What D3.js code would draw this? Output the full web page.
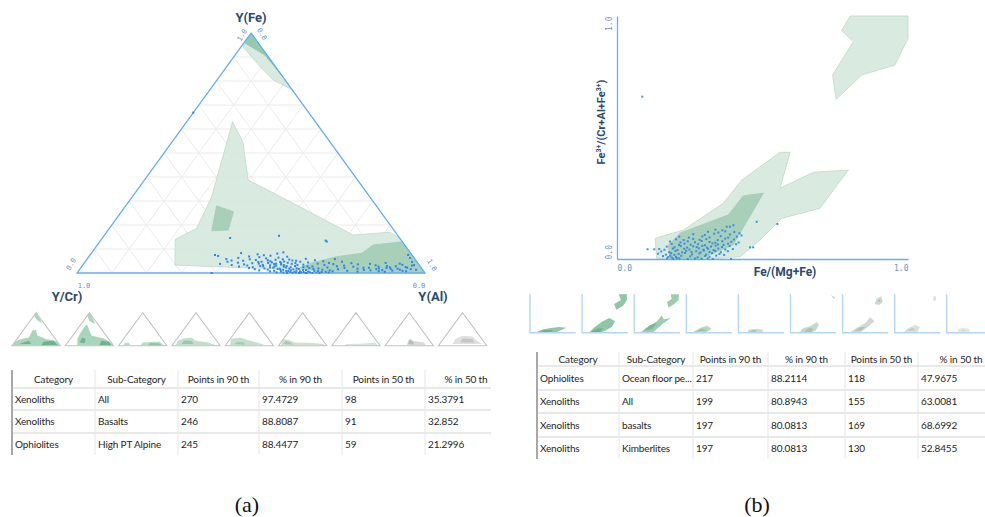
<!DOCTYPE html>
<html><head><meta charset="utf-8">
<script src="https://cdn.jsdelivr.net/npm/d3@7"></script>
<style>
body{margin:0;background:#fff;}
svg{display:block;}
</style></head>
<body>
<svg id="c" width="985" height="517"></svg>
<script>
// ---------- DATA ----------
const ternaryLabels = ["Y(Fe)", "Y/Cr)", "Y(Al)"];
const ternaryGridTicks = [0.1,0.2,0.3,0.4,0.5,0.6,0.7,0.8,0.9];
// polygons as [Al, Fe] (Cr = 1 - Al - Fe)
const ternTopLight = [[0,1],[0.005,0.943],[0.096,0.86],[0.162,0.804],[0.236,0.764]];
const ternTopDark = [[0,1],[0.004,0.958],[0.086,0.908],[0.175,0.825]];
const ternMainLight = [[0.265,0.033],[0.212,0.14],[0.251,0.186],[0.228,0.318],[0.132,0.63],[0.203,0.547],[0.298,0.3875],[0.477,0.29],[0.715,0.158],[0.814,0.17],[0.855,0.145],[1,0],[0.664,0.0125],[0.487,0.021]];
const ternBottomDark = [[0.63,0.021],[0.65,0.04],[0.712,0.068],[0.777,0.082],[0.793,0.117],[0.87,0.13],[1,0],[0.718,0]];
const ternSmallDark = [[0.261,0.28],[0.322,0.255],[0.345,0.179],[0.299,0.176]];
// spinel points [Al, Fe]
const ternPoints = [
[0.43,0.083],[0.48,0.078],[0.52,0.072],[0.55,0.086],[0.57,0.068],[0.50,0.074],[0.359,0.075],[0.37,0.071],[0.535,0.081],[0.46,0.069],
[0.40,0.058],[0.432,0.063],[0.468,0.057],[0.513,0.061],[0.547,0.064],[0.582,0.056],[0.628,0.059],[0.491,0.066],
[0.418,0.052],[0.487,0.054],[0.531,0.049],[0.563,0.057],[0.604,0.051],[0.657,0.053],[0.712,0.058],[0.543,0.055],
[0.409,0.047],[0.452,0.051],[0.498,0.046],[0.522,0.053],[0.538,0.044],[0.571,0.048],[0.593,0.052],[0.618,0.047],[0.683,0.049],
[0.441,0.043],[0.483,0.041],[0.507,0.047],[0.528,0.042],[0.552,0.039],[0.561,0.046],[0.584,0.043],[0.607,0.041],[0.642,0.044],[0.703,0.042],[0.738,0.047],
[0.392,0.038],[0.462,0.036],[0.503,0.039],[0.517,0.034],[0.548,0.037],[0.566,0.041],[0.578,0.033],[0.598,0.038],[0.633,0.035],[0.672,0.039],[0.718,0.037],[0.768,0.041],[0.823,0.038],[0.866,0.042],[0.908,0.039],
[0.428,0.033],[0.474,0.031],[0.512,0.029],[0.539,0.032],[0.554,0.027],[0.569,0.035],[0.588,0.029],[0.617,0.033],[0.648,0.028],[0.694,0.034],[0.752,0.031],[0.789,0.036],[0.842,0.032],[0.876,0.029],[0.918,0.034],[0.947,0.031],
[0.452,0.027],[0.493,0.024],[0.521,0.028],[0.543,0.023],[0.557,0.031],[0.581,0.026],[0.602,0.024],[0.612,0.029],[0.638,0.025],[0.663,0.027],[0.708,0.023],[0.733,0.028],[0.781,0.026],[0.812,0.022],[0.853,0.027],[0.887,0.024],[0.902,0.028],[0.932,0.025],
[0.484,0.021],[0.529,0.019],[0.553,0.022],[0.574,0.018],[0.589,0.023],[0.621,0.02],[0.629,0.017],[0.657,0.021],[0.684,0.019],[0.758,0.021],[0.797,0.018],[0.828,0.022],[0.858,0.019],[0.879,0.021],[0.912,0.018],[0.938,0.022],
[0.503,0.016],[0.541,0.014],[0.568,0.017],[0.586,0.013],[0.601,0.018],[0.614,0.015],[0.643,0.013],[0.671,0.017],[0.698,0.014],[0.742,0.016],[0.818,0.013],[0.852,0.016],[0.871,0.012],[0.893,0.017],[0.921,0.014],[0.951,0.016],[0.968,0.013],
[0.518,0.011],[0.562,0.009],[0.579,0.012],[0.597,0.008],[0.609,0.011],[0.626,0.009],[0.652,0.012],[0.689,0.008],[0.721,0.011],[0.772,0.009],[0.838,0.011],[0.863,0.008],[0.901,0.01],[0.931,0.009],
[0.551,0.007],[0.583,0.006],[0.603,0.008],[0.622,0.005],[0.637,0.007],[0.649,0.004],[0.661,0.006],[0.678,0.008],[0.712,0.005],[0.731,0.007],[0.803,0.006],[0.882,0.005],[0.942,0.007],
[0.572,0.003],[0.592,0.002],[0.611,0.004],[0.628,0.002],[0.642,0.003],[0.656,0.001],[0.668,0.003],[0.687,0.002],[0.701,0.004],[0.722,0.002],
[0.387,0],[0.604,0],[0.619,0.001],[0.638,0],[0.659,0],[0.676,0.001],[0.697,0],
[0.914,0.075],[0.926,0.0625],[0.94,0.046],[0.952,0.033],
[0.367,0.146],[0.503,0.155],[0.647,0.135],[0.652,0.131],[0,0.668]
];

const binXLabel = "Fe/(Mg+Fe)";
const binTicks = [0, 1];
const binUpperLight = [[0.801,1],[1,1],[1,0.908],[0.955,0.798],[0.841,0.757],[0.753,0.657],[0.741,0.757],[0.812,0.894],[0.772,0.94]];
const binLowerLight = [[0.429,0.325],[0.560,0.439],[0.595,0.439],[0.560,0.291],[0.675,0.357],[0.795,0.366],[0.698,0.209],[0.566,0.167],[0.491,0.078],[0.423,0.009],[0.308,0],[0.136,0.003],[0.131,0.085],[0.228,0.119],[0.365,0.229]];
const binDark = [[0.503,0.271],[0.434,0.26],[0.383,0.182],[0.218,0.107],[0.177,0.058],[0.182,0.003],[0.285,0],[0.399,0.058]];
const binPoints = [
[0.172,0.002],[0.193,0.001],[0.214,0.003],[0.243,0],[0.268,0.002],[0.291,0.001],[0.312,0.003],[0.329,0],[0.392,0],[0.205,0.004],
[0.158,0.012],[0.176,0.008],[0.183,0.014],[0.203,0.009],[0.221,0.013],[0.252,0.011],[0.277,0.007],[0.303,0.012],[0.318,0.009],[0.341,0.014],[0.188,0.006],
[0.141,0.022],[0.168,0.018],[0.186,0.024],[0.197,0.017],[0.212,0.021],[0.234,0.025],[0.258,0.019],[0.283,0.023],[0.306,0.018],[0.327,0.024],[0.352,0.021],[0.368,0.017],
[0.152,0.031],[0.179,0.028],[0.201,0.033],[0.224,0.027],[0.238,0.034],[0.256,0.029],[0.272,0.032],[0.287,0.027],[0.298,0.035],[0.318,0.029],[0.338,0.033],[0.357,0.028],[0.381,0.032],
[0.105,0.04],[0.128,0.04],[0.145,0.041],[0.163,0.038],[0.192,0.043],[0.208,0.037],[0.231,0.042],[0.249,0.039],[0.281,0.044],[0.297,0.038],[0.313,0.042],[0.332,0.037],[0.348,0.043],[0.372,0.039],[0.398,0.041],
[0.171,0.051],[0.198,0.048],[0.219,0.053],[0.241,0.047],[0.262,0.052],[0.274,0.049],[0.293,0.054],[0.309,0.047],[0.323,0.051],[0.339,0.055],[0.361,0.049],[0.387,0.053],[0.457,0.048],[0.468,0.048],
[0.188,0.062],[0.213,0.058],[0.232,0.063],[0.253,0.059],[0.279,0.061],[0.302,0.057],[0.328,0.064],[0.347,0.06],[0.366,0.058],[0.382,0.063],[0.409,0.061],
[0.182,0.072],[0.218,0.068],[0.243,0.073],[0.268,0.069],[0.291,0.074],[0.318,0.07],[0.338,0.067],[0.362,0.073],[0.393,0.071],[0.418,0.068],
[0.203,0.081],[0.229,0.078],[0.262,0.083],[0.284,0.079],[0.307,0.082],[0.346,0.078],[0.372,0.084],[0.402,0.08],
[0.214,0.092],[0.247,0.088],[0.293,0.093],[0.318,0.089],[0.356,0.094],[0.382,0.088],[0.412,0.092],[0.428,0.097],
[0.262,0.102],[0.302,0.099],[0.334,0.104],[0.388,0.101],[0.421,0.106],
[0.313,0.112],[0.348,0.109],[0.372,0.114],[0.403,0.111],
[0.338,0.121],[0.362,0.118],[0.377,0.133],[0.388,0.133],[0.40,0.139],
[0.48,0.153],[0.551,0.144],[0.087,0.668]
];

const thumbAColors = [["#a9d5bb","#6fb38d"],["#a9d5bb","#6fb38d"],["#bcdcc9","#8cc4a4"],["#c2dfcd","#98c8ac"],["#c6e0d0","#a0cbb2"],["#cfdfd4","#adc6b6"],["#d8e3dc","#bccdc2"],["#d6dad7","#b6bdb8"],["#e0e0e0","#c6c6c6"]];
const thumbAShapes = [
 [[[0.03,0],[0.05,0.12],[0.2,0.2],[0.35,0.25],[0.42,0.45],[0.5,0.48],[0.52,0.32],[0.7,0.2],[0.9,0.15],[1,0]],[[0.45,0.92],[0.5,1],[0.55,0.9],[0.62,0.68],[0.52,0.78]]],
 [[[0.25,0],[0.25,0.2],[0.32,0.4],[0.4,0.58],[0.45,0.64],[0.5,0.45],[0.55,0.3],[0.8,0.22],[0.92,0.12],[1,0]],[[0.45,0.92],[0.5,1],[0.56,0.85],[0.62,0.65],[0.5,0.75]]],
 [[[0.1,0],[0.12,0.08],[0.2,0.1],[0.25,0.03]],[[0.45,0],[0.5,0.1],[0.7,0.12],[0.85,0.12],[0.95,0]]],
 [[[0.08,0],[0.12,0.15],[0.25,0.22],[0.4,0.25],[0.5,0.15],[0.75,0.1],[0.95,0]]],
 [[[0.1,0],[0.12,0.2],[0.3,0.25],[0.45,0.18],[0.7,0.08],[0.85,0]]],
 [[[0.05,0],[0.08,0.2],[0.2,0.18],[0.35,0.1],[0.7,0.08],[0.92,0.05],[0.97,0]]],
 [[[0.25,0],[0.3,0.05],[0.6,0.06],[0.9,0.1],[0.95,0]],[[0.47,0.93],[0.5,1],[0.53,0.93]]],
 [[[0.45,0],[0.48,0.15],[0.52,0.22],[0.58,0.15],[0.8,0.1],[0.85,0]]],
 [[[0.3,0.05],[0.35,0.2],[0.5,0.3],[0.7,0.28],[0.8,0.15],[0.9,0.05]]]
];
const thumbADark = [
 [[[0.6,0],[0.65,0.12],[0.85,0.15],[0.97,0]],[[0.15,0.05],[0.35,0.15],[0.4,0.05]]],
 [[[0.7,0],[0.75,0.15],[0.9,0.12],[0.97,0]],[[0.3,0.1],[0.35,0.25],[0.42,0.2],[0.4,0.08]]],
 [[[0.6,0],[0.65,0.08],[0.85,0.07],[0.9,0]]],
 [[[0.2,0.05],[0.25,0.15],[0.4,0.15],[0.45,0.05]]],
 [[[0.2,0.05],[0.25,0.12],[0.4,0.1],[0.4,0.03]]],
 [[[0.1,0.05],[0.15,0.15],[0.25,0.1],[0.3,0.03]]],
 [],
 [[[0.48,0.05],[0.5,0.18],[0.58,0.12],[0.6,0.04]]],
 [[[0.45,0.1],[0.5,0.22],[0.7,0.2],[0.75,0.1]]]
];
const thumbBColors = [["#8fc7a6","#6fb38d"],["#8fc7a6","#6fb38d"],["#9ccdb0","#78b894"],["#b4d8c2","#8cc4a4"],["#c2dfcd","#9fcab1"],["#c6d8cc","#a9c2b2"],["#cfd9d2","#b2c1b7"],["#d9dedb","#bdc5c0"],["#e6e6e6","#cfcfcf"]];
const thumbBShapes = [
 [[[0.15,0.02],[0.25,0.08],[0.45,0.12],[0.65,0.15],[0.8,0.13],[0.65,0.05],[0.55,0]]],
 [[[0.15,0],[0.25,0.12],[0.45,0.3],[0.6,0.38],[0.72,0.3],[0.65,0.15],[0.5,0.05],[0.4,0]],[[0.75,0.6],[0.7,0.75],[0.85,0.85],[0.8,1],[0.98,1],[0.98,0.85],[0.9,0.7]]],
 [[[0.15,0.02],[0.3,0.15],[0.5,0.3],[0.6,0.45],[0.65,0.35],[0.8,0.38],[0.65,0.25],[0.5,0.1],[0.4,0]],[[0.75,0.65],[0.72,0.8],[0.82,0.88],[0.8,1],[0.98,1],[0.97,0.85],[0.88,0.75]]],
 [[[0.15,0.02],[0.3,0.12],[0.45,0.18],[0.55,0.1],[0.45,0.02]]],
 [[[0.2,0],[0.22,0.08],[0.4,0.1],[0.55,0.08],[0.5,0]]],
 [[[0.2,0],[0.25,0.1],[0.45,0.18],[0.58,0.28],[0.62,0.2],[0.55,0.05],[0.45,0]],[[0.88,0.98],[0.95,0.88],[0.98,0.92]]],
 [[[0.18,0.02],[0.3,0.12],[0.5,0.25],[0.6,0.4],[0.7,0.3],[0.55,0.15],[0.4,0.02]],[[0.7,0.75],[0.75,0.9],[0.85,0.95],[0.88,0.8],[0.8,0.72]]],
 [[[0.2,0.02],[0.3,0.12],[0.45,0.2],[0.55,0.15],[0.5,0.02]],[[0.84,0.84],[0.85,0.95],[0.9,0.95],[0.9,0.84]]],
 [[[0.25,0.01],[0.25,0.1],[0.35,0.12],[0.5,0.1],[0.5,0.01]]]
];
const thumbBDark = [
 [[[0.2,0],[0.3,0.07],[0.5,0.08],[0.45,0]]],
 [[[0.2,0.02],[0.3,0.1],[0.45,0.12],[0.4,0.02]]],
 [[[0.2,0.05],[0.35,0.2],[0.5,0.25],[0.4,0.1]]],
 [[[0.22,0.03],[0.35,0.1],[0.45,0.06]]],
 [[[0.25,0.02],[0.3,0.07],[0.4,0.05],[0.38,0]]],
 [[[0.3,0.03],[0.4,0.12],[0.5,0.1],[0.45,0.02]]],
 [[[0.25,0.05],[0.4,0.15],[0.5,0.15],[0.4,0.05]],[[0.76,0.8],[0.8,0.88],[0.84,0.82]]],
 [[[0.28,0.04],[0.38,0.12],[0.45,0.08]]],
 [[[0.32,0.03],[0.35,0.08],[0.43,0.07]]]
];

const tableHeaders = ["Category","Sub-Category","Points in 90 th","% in 90 th","Points in 50 th","% in 50 th"];
const tableACategories = ["Xenoliths","Xenoliths","Ophiolites"];
const tableASub = ["All","Basalts","High PT Alpine"];
const tableAP90 = ["270","246","245"];
const tableAPct90 = ["97.4729","88.8087","88.4477"];
const tableAP50 = ["98","91","59"];
const tableAPct50 = ["35.3791","32.852","21.2996"];
const tableBCategories = ["Ophiolites","Xenoliths","Xenoliths","Xenoliths"];
const tableBSub = ["Ocean floor pe...","All","basalts","Kimberlites"];
const tableBP90 = ["217","199","197","197"];
const tableBPct90 = ["88.2114","80.8943","80.0813","80.0813"];
const tableBP50 = ["118","155","169","130"];
const tableBPct50 = ["47.9675","63.0081","68.6992","52.8455"];
const captions = ["(a)","(b)"];

// ---------- DRAW ----------
const svg = d3.select("#c");
const BLUE = "#64aef2", PT = "#2a86ee", LIGHT = "#d5e9dd", LIGHTS = "#bcd9c8", DARK = "#a2cdb5", LBL = "#2c4a6e", TICK = "#6d92ba";
const labelFont = "'Liberation Sans Narrow','Roboto',sans-serif";

const tx = d3.scaleLinear().domain([0,1]).range([77,425]);
const ty = d3.scaleLinear().domain([0,1]).range([273,33]);
const tp = d => [tx(d[0] + d[1]/2), ty(d[1])];
const line = d3.line();
const cl = d3.line().curve(d3.curveLinearClosed);
const gT = svg.append("g");

ternaryGridTicks.forEach(t => {
  [[tp([0,t]), tp([1-t,t])], [tp([t,0]), tp([t,1-t])], [tp([1-t,0]), tp([0,1-t])]].forEach(seg =>
    gT.append("path").attr("d", line(seg)).attr("stroke","#ebebeb").attr("stroke-width",1).attr("fill","none"));
});
[[ternMainLight,LIGHT],[ternTopLight,LIGHT],[ternTopDark,"#8fc5a7"],[ternBottomDark,DARK],[ternSmallDark,DARK]].forEach(([p,c]) => {
  gT.append("path").attr("d", cl(p.map(tp)))
    .attr("fill", c).attr("fill-opacity", 0.9).attr("stroke", c === LIGHT ? LIGHTS : c).attr("stroke-width", 0.8);
});
gT.append("path").attr("d", cl([tp([0,0]),tp([1,0]),tp([0,1])]))
  .attr("fill","none").attr("stroke",BLUE).attr("stroke-width",1.3);
gT.selectAll("rect.tp").data(ternPoints).join("rect").attr("class","tp")
  .attr("x", d => tp(d)[0]-1).attr("y", d => tp(d)[1]-1).attr("width",2).attr("height",2).attr("fill",PT);
const vtx = [[0,1],[0,0],[1,0]];
const gL = gT.append("g");
gL.append("text").attr("x", tp(vtx[0])[0]).attr("y", 22).attr("text-anchor","middle").text(ternaryLabels[0]);
gL.append("text").attr("x", tp(vtx[1])[0]-10).attr("y", 301).attr("text-anchor","middle").text(ternaryLabels[1]);
gL.append("text").attr("x", tp(vtx[2])[0]+8).attr("y", 301).attr("text-anchor","middle").text(ternaryLabels[2]);
gL.selectAll("text").attr("font-family",labelFont).attr("font-weight","bold").attr("font-size",13).attr("fill",LBL);
const tfmt = d3.format(".1f");
const tTicks = [
  {v:1, x:tp(vtx[0])[0]-9, y:tp(vtx[0])[1]+2, r:-60},
  {v:0, x:tp(vtx[0])[0]+11, y:tp(vtx[0])[1]+1, r:60},
  {v:0, x:tp(vtx[1])[0]-6, y:tp(vtx[1])[1]-9, r:-60},
  {v:1, x:tp(vtx[1])[0]+7, y:tp(vtx[1])[1]+13, r:0},
  {v:0, x:tp(vtx[2])[0]-6, y:tp(vtx[2])[1]+13, r:0},
  {v:1, x:tp(vtx[2])[0]+7, y:tp(vtx[2])[1]-8, r:60}
];
tTicks.forEach(t => {
  gT.append("text").attr("transform",`translate(${t.x},${t.y}) rotate(${t.r})`).attr("text-anchor","middle")
    .attr("dy","0.35em").attr("font-family","'DejaVu Sans Mono',monospace").attr("font-size",7).attr("fill",TICK).text(tfmt(t.v));
});

// Binary plot
const bx = d3.scaleLinear().domain([0,1]).range([617,908]);
const by = d3.scaleLinear().domain([0,1]).range([259,16]);
const bp = d => [bx(d[0]), by(d[1])];
const gB = svg.append("g");
[[binUpperLight,LIGHT],[binLowerLight,LIGHT],[binDark,DARK]].forEach(([p,c]) => {
  gB.append("path").attr("d", cl(p.map(bp))).attr("fill",c).attr("fill-opacity",0.9).attr("stroke", c===LIGHT?LIGHTS:c).attr("stroke-width",0.8);
});
const xAx = gB.append("g").attr("transform",`translate(0,${by(0)})`)
  .call(d3.axisBottom(bx).tickValues(binTicks).tickFormat(tfmt).tickSize(0).tickPadding(6));
const yAx = gB.append("g").attr("transform",`translate(${bx(0)},0)`)
  .call(d3.axisLeft(by).tickValues(binTicks).tickFormat(tfmt).tickSize(0).tickPadding(6));
[xAx,yAx].forEach(a => {
  a.select(".domain").attr("stroke",BLUE).attr("stroke-width",1.3);
  a.selectAll("text").attr("font-family","'DejaVu Sans Mono',monospace").attr("font-size",8).attr("fill",TICK);
});
xAx.selectAll(".tick text").attr("text-anchor",(d,i)=> i===0?"start":"end");
yAx.selectAll(".tick text").attr("transform","rotate(-90,-8,0)")
  .attr("x",-8).attr("dy","0.35em").attr("text-anchor",(d,i)=> i===0?"start":"end");
gB.selectAll("rect.bp").data(binPoints).join("rect").attr("class","bp")
  .attr("x", d => bp(d)[0]-1).attr("y", d => bp(d)[1]-1).attr("width",2).attr("height",2).attr("fill",PT).attr("fill-opacity",0.9);
gB.append("text").attr("x",785).attr("y",276).attr("text-anchor","middle")
  .attr("font-family",labelFont).attr("font-weight","bold").attr("font-size",12).attr("fill",LBL).text(binXLabel);
const yl = gB.append("text").attr("transform","translate(605,122) rotate(-90)").attr("text-anchor","middle")
  .attr("font-family",labelFont).attr("font-weight","bold").attr("font-size",11).attr("fill",LBL);
yl.append("tspan").text("Fe");
yl.append("tspan").attr("dy",-4).attr("font-size",7).text("3+");
yl.append("tspan").attr("dy",4).text("/(Cr+Al+Fe");
yl.append("tspan").attr("dy",-4).attr("font-size",7).text("3+");
yl.append("tspan").attr("dy",4).text(")");

// Thumbnails (a)
const gA = svg.append("g");
thumbAShapes.forEach((shapes,i) => {
  const x0 = 12 + i*53.3;
  const sx = d3.scaleLinear().domain([0,1]).range([x0, x0+48.3]);
  const sy = d3.scaleLinear().domain([0,1]).range([345.7, 312.7]);
  const pt = d => [sx(d[0]), sy(d[1])];
  const tri = [[0,0],[1,0],[0.5,1]];
  const id = "clipA"+i;
  gA.append("clipPath").attr("id",id).append("path").attr("d", cl(tri.map(pt)));
  const g = gA.append("g").attr("clip-path",`url(#${id})`);
  shapes.forEach(s => g.append("path").attr("d",cl(s.map(pt))).attr("fill",thumbAColors[i][0]));
  thumbADark[i].forEach(s => g.append("path").attr("d",cl(s.map(pt))).attr("fill",thumbAColors[i][1]));
  gA.append("path").attr("d", cl(tri.map(pt))).attr("fill","none").attr("stroke","#c4c4c4").attr("stroke-width",1.1);
});
// Thumbnails (b)
thumbBShapes.forEach((shapes,i) => {
  const x0 = 530 + i*52.1;
  const sx = d3.scaleLinear().domain([0,1]).range([x0, x0+45.7]);
  const sy = d3.scaleLinear().domain([0,1]).range([332.7, 294.3]);
  const pt = d => [sx(d[0]), sy(d[1])];
  shapes.forEach(s => gA.append("path").attr("d",cl(s.map(pt))).attr("fill",thumbBColors[i][0]));
  thumbBDark[i].forEach(s => gA.append("path").attr("d",cl(s.map(pt))).attr("fill",thumbBColors[i][1]));
  gA.append("path").attr("d", d3.line()([pt([0,1]),pt([0,0]),pt([1,0])])).attr("fill","none").attr("stroke","#b4d6f7").attr("stroke-width",1.4);
});

// Tables
function drawTable(cols, rowYs, columns, clipRight, id) {
  const top = rowYs[0], bottom = rowYs[rowYs.length-1];
  svg.append("clipPath").attr("id",id).append("rect").attr("x",cols[0]-2).attr("y",top-2).attr("width",clipRight-cols[0]+2).attr("height",bottom-top+4);
  const g = svg.append("g").attr("clip-path",`url(#${id})`);
  const nRows = columns[0].length;
  rowYs.forEach((y,i) => { if (i>0 && i<rowYs.length-1) g.append("line").attr("x1",cols[0]).attr("x2",cols[cols.length-1]).attr("y1",y).attr("y2",y).attr("stroke","#e9e9e9").attr("stroke-width",2); });
  cols.slice(1,-1).forEach(x => g.append("line").attr("x1",x).attr("x2",x).attr("y1",top).attr("y2",bottom).attr("stroke","#e6e6e6").attr("stroke-width",1));
  g.append("line").attr("x1",cols[0]).attr("x2",cols[0]).attr("y1",top).attr("y2",bottom).attr("stroke","#a8a8a8").attr("stroke-width",2);
  tableHeaders.forEach((h,j) => {
    g.append("text").attr("x",(cols[j]+cols[j+1])/2).attr("y",(rowYs[0]+rowYs[1])/2).attr("dy","0.35em").attr("text-anchor","middle").text(h);
  });
  for (let r=0;r<nRows;r++) columns.forEach((col,j) => {
    g.append("text").attr("x",cols[j]+3).attr("y",(rowYs[r+1]+rowYs[r+2])/2).attr("dy","0.35em").text(col[r]);
  });
  g.selectAll("text").attr("font-family","'Lato','Open Sans',sans-serif").attr("font-size",10).attr("letter-spacing",-0.15).attr("fill","#1e1e1e");
}
drawTable([12,95,178,259,342,425,507], [370,388,410,433,455],
  [tableACategories,tableASub,tableAP90,tableAPct90,tableAP50,tableAPct50], 491, "clipTA");
drawTable([537,619,693,768,845,918,1004], [352,366,390,413,437,459],
  [tableBCategories,tableBSub,tableBP90,tableBPct90,tableBP50,tableBPct50], 985, "clipTB");

svg.append("text").attr("x",247).attr("y",512).attr("text-anchor","middle").attr("font-family","'Liberation Serif',serif").attr("font-size",22).attr("fill","#111").text(captions[0]);
svg.append("text").attr("x",757).attr("y",512).attr("text-anchor","middle").attr("font-family","'Liberation Serif',serif").attr("font-size",22).attr("fill","#111").text(captions[1]);
</script>
</body></html>
